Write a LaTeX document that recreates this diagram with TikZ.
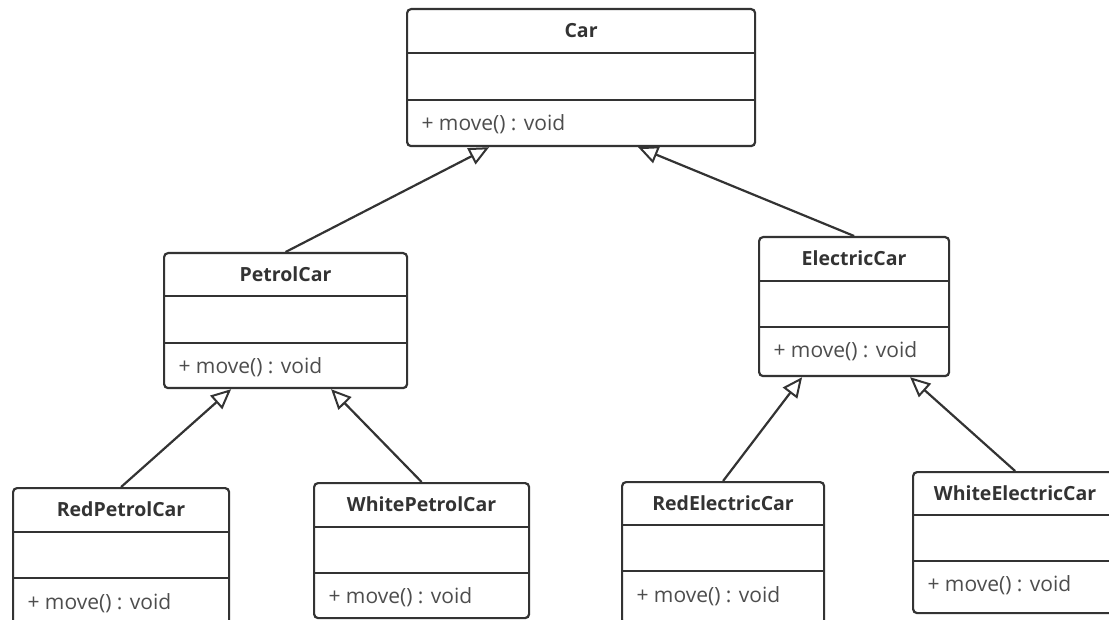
\documentclass[tikz,border=0pt]{standalone}
\usepackage{fontspec}
\setmainfont{Open Sans}
\usepackage{tikz}
\usetikzlibrary{arrows.meta}
\definecolor{linegray}{HTML}{333333}
\definecolor{titlegray}{HTML}{333333}
\definecolor{textgray}{HTML}{4D4D4D}
\tikzset{
  classbox/.style={draw=linegray, line width=2.2pt, rounded corners=4pt, fill=white, anchor=north west, inner sep=0pt},
  divider/.style={draw=linegray, line width=2.2pt},
  classname/.style={font=\fontsize{19.5}{22}\selectfont\bfseries, text=titlegray},
  method/.style={anchor=west, font=\fontsize{21}{24}\selectfont, text=textgray},
  inherit/.style={draw=linegray, line width=2.2pt, -{Triangle[open, length=20pt, width=18pt, line width=2pt]}},
}

\begin{document}
\begin{tikzpicture}[x=1pt, y=-1pt]
    \clip (0, 0) rectangle (1109, 620);

    % Car
    \node[classbox, minimum width=348pt, minimum height=137pt] (car) at (406, 8) {};
    \draw[divider] ([yshift=-45pt]car.north west) -- ([yshift=-45pt]car.north east);
    \draw[divider] ([yshift=-92pt]car.north west) -- ([yshift=-92pt]car.north east);
    \node[classname] (car-name) at ([yshift=-22.5pt]car.north) {Car};
    \node[method] (car-move) at ([xshift=12pt, yshift=-116pt]car.north west) {+ move() : void};

    % PetrolCar
    \node[classbox, minimum width=243pt, minimum height=135pt] (petrol) at (163, 252) {};
    \draw[divider] ([yshift=-44pt]petrol.north west) -- ([yshift=-44pt]petrol.north east);
    \draw[divider] ([yshift=-91pt]petrol.north west) -- ([yshift=-91pt]petrol.north east);
    \node[classname] (petrol-name) at ([yshift=-22pt]petrol.north) {PetrolCar};
    \node[method] (petrol-move) at ([xshift=12pt, yshift=-115pt]petrol.north west) {+ move() : void};

    % ElectricCar
    \node[classbox, minimum width=190pt, minimum height=139pt] (electric) at (758, 236) {};
    \draw[divider] ([yshift=-45pt]electric.north west) -- ([yshift=-45pt]electric.north east);
    \draw[divider] ([yshift=-91pt]electric.north west) -- ([yshift=-91pt]electric.north east);
    \node[classname] (electric-name) at ([yshift=-22.5pt]electric.north) {ElectricCar};
    \node[method] (electric-move) at ([xshift=12pt, yshift=-115pt]electric.north west) {+ move() : void};

    % RedPetrolCar
    \node[classbox, minimum width=216pt, minimum height=140pt] (redpetrol) at (12, 487) {};
    \draw[divider] ([yshift=-45pt]redpetrol.north west) -- ([yshift=-45pt]redpetrol.north east);
    \draw[divider] ([yshift=-91pt]redpetrol.north west) -- ([yshift=-91pt]redpetrol.north east);
    \node[classname] (redpetrol-name) at ([yshift=-22.5pt]redpetrol.north) {RedPetrolCar};
    \node[method] (redpetrol-move) at ([xshift=12pt, yshift=-116pt]redpetrol.north west) {+ move() : void};

    % WhitePetrolCar
    \node[classbox, minimum width=215pt, minimum height=135pt] (whitepetrol) at (313, 482) {};
    \draw[divider] ([yshift=-45pt]whitepetrol.north west) -- ([yshift=-45pt]whitepetrol.north east);
    \draw[divider] ([yshift=-91pt]whitepetrol.north west) -- ([yshift=-91pt]whitepetrol.north east);
    \node[classname] (whitepetrol-name) at ([yshift=-22.5pt]whitepetrol.north) {WhitePetrolCar};
    \node[method] (whitepetrol-move) at ([xshift=12pt, yshift=-115pt]whitepetrol.north west) {+ move() : void};

    % RedElectricCar
    \node[classbox, minimum width=202pt, minimum height=142pt] (redelectric) at (621, 481) {};
    \draw[divider] ([yshift=-44pt]redelectric.north west) -- ([yshift=-44pt]redelectric.north east);
    \draw[divider] ([yshift=-90pt]redelectric.north west) -- ([yshift=-90pt]redelectric.north east);
    \node[classname] (redelectric-name) at ([yshift=-22pt]redelectric.north) {RedElectricCar};
    \node[method] (redelectric-move) at ([xshift=12pt, yshift=-115pt]redelectric.north west) {+ move() : void};

    % WhiteElectricCar
    \node[classbox, minimum width=204pt, minimum height=141pt] (whiteelectric) at (912, 471) {};
    \draw[divider] ([yshift=-44pt]whiteelectric.north west) -- ([yshift=-44pt]whiteelectric.north east);
    \draw[divider] ([yshift=-90pt]whiteelectric.north west) -- ([yshift=-90pt]whiteelectric.north east);
    \node[classname] (whiteelectric-name) at ([yshift=-22pt]whiteelectric.north) {WhiteElectricCar};
    \node[method] (whiteelectric-move) at ([xshift=12pt, yshift=-114pt]whiteelectric.north west) {+ move() : void};

    % generalisations
    \draw[inherit] (petrol.north) -- ([xshift=-92pt]car.south);
    \draw[inherit] (electric.north) -- ([xshift=57pt]car.south);
    \draw[inherit] (redpetrol.north) -- ([xshift=-54.5pt]petrol.south);
    \draw[inherit] (whitepetrol.north) -- ([xshift=45.5pt]petrol.south);
    \draw[inherit] (redelectric.north) -- ([xshift=-52pt]electric.south);
    \draw[inherit] (whiteelectric.north) -- ([xshift=56pt]electric.south);
\end{tikzpicture}
\end{document}
